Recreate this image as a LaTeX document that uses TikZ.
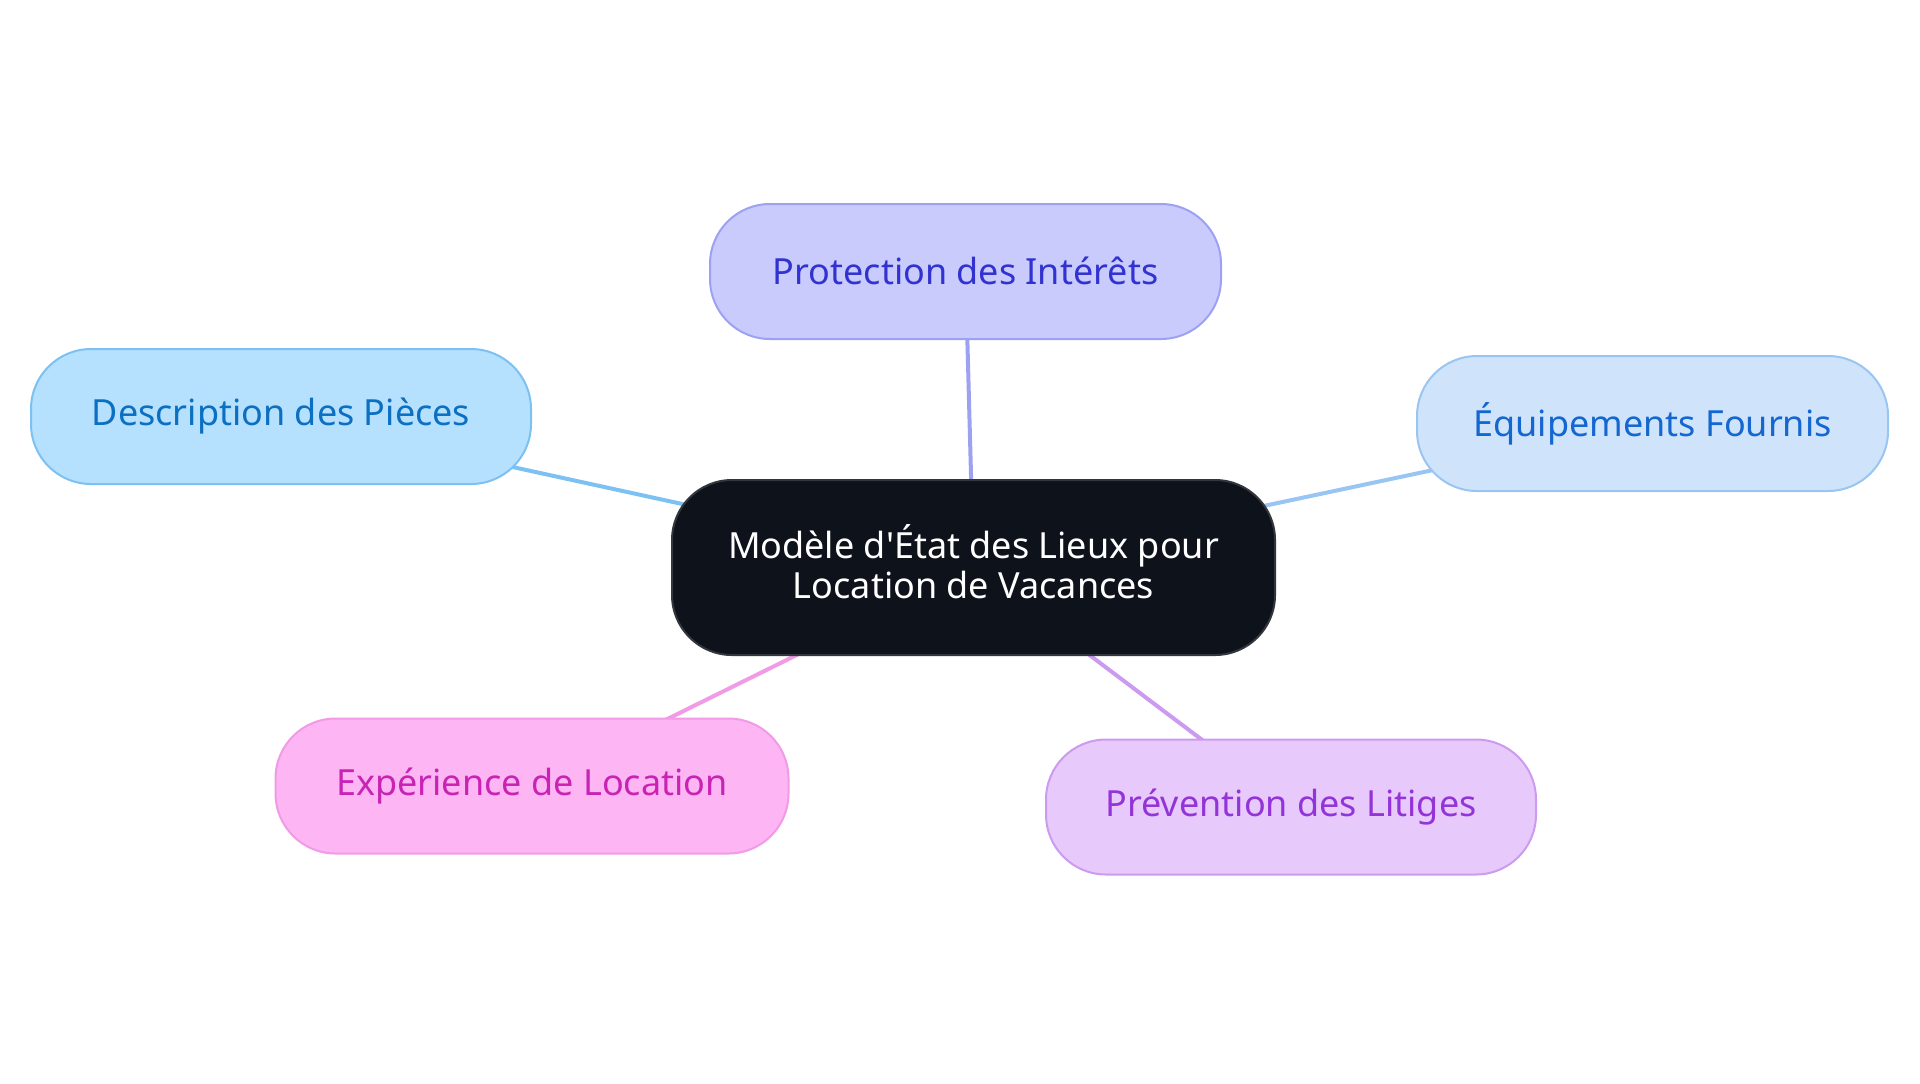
\documentclass[tikz,border=0pt]{standalone}
\usepackage{fontspec}
\setmainfont{Noto Sans}
\usepackage{xcolor}
\usepackage{tikz}
\usetikzlibrary{backgrounds}
\definecolor{rootFill}{HTML}{0D121B}
\definecolor{rootDraw}{HTML}{33363C}
\definecolor{protFill}{HTML}{C9CBFD}
\definecolor{protDraw}{HTML}{9DA1F2}
\definecolor{protText}{HTML}{3132CF}
\definecolor{descFill}{HTML}{B5E0FE}
\definecolor{descDraw}{HTML}{7DC1F2}
\definecolor{descText}{HTML}{0B6FC2}
\definecolor{equipFill}{HTML}{CFE4FB}
\definecolor{equipDraw}{HTML}{99C5F2}
\definecolor{equipText}{HTML}{1466D0}
\definecolor{expFill}{HTML}{FDB5F3}
\definecolor{expDraw}{HTML}{F19AE6}
\definecolor{expText}{HTML}{C823B5}
\definecolor{prevFill}{HTML}{E7C9FC}
\definecolor{prevDraw}{HTML}{CC9BF0}
\definecolor{prevText}{HTML}{9234D8}

\begin{document}
\begin{tikzpicture}[x=0.5pt,y=-0.5pt,
leaf/.style={
rounded corners=30pt,
line width=1pt,
minimum height=67.5pt,
inner sep=0pt,
align=center,
font=\fontsize{18}{20}\selectfont,
},
link/.style={line width=2pt},
]
\useasboundingbox (0,0) rectangle (1920,1083);

% central topic
\node[leaf, fill=rootFill, draw=rootDraw, text=white,
minimum width=301.5pt, minimum height=87.5pt] (root) at (973.5,567.5)
{\raisebox{3pt}{\begin{tabular}{@{}c@{}}Mod\`ele d\textquotesingle\'Etat des Lieux pour\\Location de Vacances\end{tabular}}};

% branches
\node[leaf, fill=protFill, draw=protDraw, text=protText, minimum width=255.5pt]
(prot) at (965.5,271.5) {\raisebox{1pt}{Protection des Int\'er\^ets}};
\node[leaf, fill=descFill, draw=descDraw, text=descText, minimum width=250pt]
(desc) at (281,416.5) {Description des Pi\`eces};
\node[leaf, fill=equipFill, draw=equipDraw, text=equipText, minimum width=235.5pt]
(equip) at (1652.5,423.5) {\'Equipements Fournis};
\node[leaf, fill=expFill, draw=expDraw, text=expText, minimum width=256.5pt]
(exp) at (532,786) {Exp\'erience de Location};
\node[leaf, fill=prevFill, draw=prevDraw, text=prevText, minimum width=245pt]
(prev) at (1291,807) {Pr\'evention des Litiges};

\begin{scope}[on background layer]
\draw[link, draw=protDraw] (root.center) -- (prot.center);
\draw[link, draw=descDraw] (root.center) -- (desc.center);
\draw[link, draw=equipDraw] (root.center) -- (equip.center);
\draw[link, draw=expDraw] (root.center) -- (exp.center);
\draw[link, draw=prevDraw] (root.center) -- (prev.center);
\end{scope}
\end{tikzpicture}
\end{document}
